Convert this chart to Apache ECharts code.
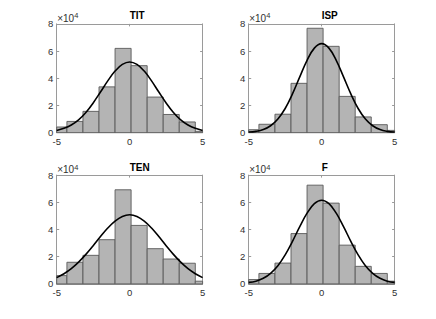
<!DOCTYPE html>
<html>
<head>
<meta charset="utf-8">
<script src="https://cdn.jsdelivr.net/npm/echarts@6/dist/echarts.min.js"></script>
<style>
html,body{margin:0;padding:0;background:#fff;}
#c{width:436px;height:319px;}
</style>
</head>
<body>
<div id="c"></div>
<script>
// ---- data (values in units of 10^4) ----
const titles = ['TIT', 'ISP', 'TEN', 'F'];
const binEdges = [-5.4, -4.3, -3.2, -2.1, -1.0, 0.1, 1.2, 2.3, 3.4, 4.5, 5.6];
const titCounts = [0.42, 0.83, 1.57, 3.37, 6.20, 4.93, 2.62, 1.34, 0.79, 0.10];
const ispCounts = [0.22, 0.62, 1.36, 3.63, 7.68, 6.35, 2.67, 1.16, 0.59, 0.17];
const tenCounts = [0.61, 1.59, 2.10, 3.25, 6.92, 4.30, 2.59, 1.83, 1.52, 0.20];
const fCounts   = [0.32, 0.77, 1.53, 3.70, 7.26, 5.94, 2.85, 1.29, 0.77, 0.20];
const curveX = [-5, -4.5, -4, -3.5, -3, -2.5, -2, -1.5, -1, -0.5, 0, 0.5, 1, 1.5, 2, 2.5, 3, 3.5, 4, 4.5, 5];
const titCurve = [0.16, 0.32, 0.57, 0.95, 1.49, 2.19, 2.99, 3.81, 4.53, 5.02, 5.20, 5.02, 4.53, 3.81, 2.99, 2.19, 1.49, 0.95, 0.57, 0.32, 0.16];
const ispCurve = [0.05, 0.10, 0.23, 0.51, 1.01, 1.78, 2.85, 4.10, 5.32, 6.22, 6.55, 6.22, 5.32, 4.10, 2.85, 1.78, 1.01, 0.51, 0.23, 0.10, 0.05];
const tenCurve = [0.46, 0.75, 1.12, 1.60, 2.17, 2.81, 3.48, 4.11, 4.62, 4.96, 5.08, 4.96, 4.62, 4.11, 3.48, 2.81, 2.17, 1.60, 1.12, 0.75, 0.46];
const fCurve   = [0.11, 0.20, 0.41, 0.78, 1.34, 2.14, 3.13, 4.21, 5.20, 5.90, 6.15, 5.90, 5.20, 4.21, 3.13, 2.14, 1.34, 0.78, 0.41, 0.20, 0.11];
const xTicks = [-5, 0, 5];
const yTicks = [0, 2, 4, 6, 8];

const countsList = [titCounts, ispCounts, tenCounts, fCounts];
const curveList = [titCurve, ispCurve, tenCurve, fCurve];

// ---- layout ----
const colLeft = [56.7, 248.7];
const rowTop = [23.9, 175.1];
const gw = 145.9, gh = 108.8;
const FONT = '"Liberation Sans", Arial, Helvetica, sans-serif';
const axisCol = '#9a9a9a';
const labelCol = '#303030';

const grid = [], xAxis = [], yAxis = [], series = [], graphic = [];
const xInt = xTicks[1] - xTicks[0], yInt = yTicks[1] - yTicks[0];

for (let i = 0; i < 4; i++) {
  const left = colLeft[i % 2], top = rowTop[Math.floor(i / 2)];
  grid.push({left: left, top: top, width: gw, height: gh, containLabel: false});
  const base = {
    type: 'value', gridIndex: i,
    min: xTicks[0], max: xTicks[xTicks.length - 1], interval: xInt,
    splitLine: {show: false},
    axisLine: {show: true, onZero: false, lineStyle: {color: axisCol, width: 1}},
    axisTick: {show: true, inside: true, length: 2.5, lineStyle: {color: axisCol}}
  };
  xAxis.push(Object.assign({}, base, {position: 'bottom',
    axisLabel: {show: true, color: labelCol, fontSize: 9.5, fontFamily: FONT, margin: 4}}));
  xAxis.push(Object.assign({}, base, {position: 'top', axisLabel: {show: false}}));
  const ybase = {
    type: 'value', gridIndex: i,
    min: yTicks[0], max: yTicks[yTicks.length - 1], interval: yInt,
    splitLine: {show: false},
    axisLine: {show: true, onZero: false, lineStyle: {color: axisCol, width: 1}},
    axisTick: {show: true, inside: true, length: 2.5, lineStyle: {color: axisCol}}
  };
  yAxis.push(Object.assign({}, ybase, {position: 'left',
    axisLabel: {show: true, color: labelCol, fontSize: 9.5, fontFamily: FONT, margin: 3.5}}));
  yAxis.push(Object.assign({}, ybase, {position: 'right', axisLabel: {show: false}}));

  const counts = countsList[i];
  const barData = counts.map((v, k) => [binEdges[k], binEdges[k + 1], v]);
  series.push({
    type: 'custom', xAxisIndex: 2 * i, yAxisIndex: 2 * i,
    encode: {x: [0, 1], y: 2},
    data: barData, z: 2,
    renderItem: function (params, api) {
      const x0 = api.value(0), x1 = api.value(1), y = api.value(2);
      const p0 = api.coord([x0, y]);
      const p1 = api.coord([x1, 0]);
      const rect = {x: p0[0], y: p0[1], width: p1[0] - p0[0], height: p1[1] - p0[1]};
      const cs = params.coordSys;
      const clipped = echarts.graphic.clipRectByRect(rect, {x: cs.x, y: cs.y, width: cs.width, height: cs.height});
      if (!clipped) return;
      return {type: 'rect', shape: clipped,
        style: {fill: '#b4b4b4', stroke: '#595959', lineWidth: 0.9}};
    }
  });
  const curve = curveList[i];
  series.push({
    type: 'line', xAxisIndex: 2 * i, yAxisIndex: 2 * i,
    data: curveX.map((x, k) => [x, curve[k]]),
    smooth: 0.4, showSymbol: false, symbol: 'none', z: 5, clip: true,
    lineStyle: {color: '#000', width: 1.6},
    animation: false
  });

  graphic.push({
    type: 'text', left: left + gw / 2, top: top - 13,
    style: {text: titles[i], font: 'bold 10px ' + FONT, fill: '#000', textAlign: 'center'}
  });
  graphic.push({
    type: 'text', left: left + 0.5, top: top - 12,
    style: {
      text: '{a|×10}{b|4}',
      rich: {
        a: {fontSize: 10, fontFamily: FONT, fill: labelCol, color: labelCol},
        b: {fontSize: 7.5, fontFamily: FONT, fill: labelCol, color: labelCol, verticalAlign: 'top', padding: [0, 0, 5, 0]}
      }
    }
  });
}

const chart = echarts.init(document.getElementById('c'), null, {renderer: 'svg'});
chart.setOption({
  animation: false,
  backgroundColor: '#fff',
  grid: grid, xAxis: xAxis, yAxis: yAxis, series: series, graphic: graphic
});
</script>
</body>
</html>
